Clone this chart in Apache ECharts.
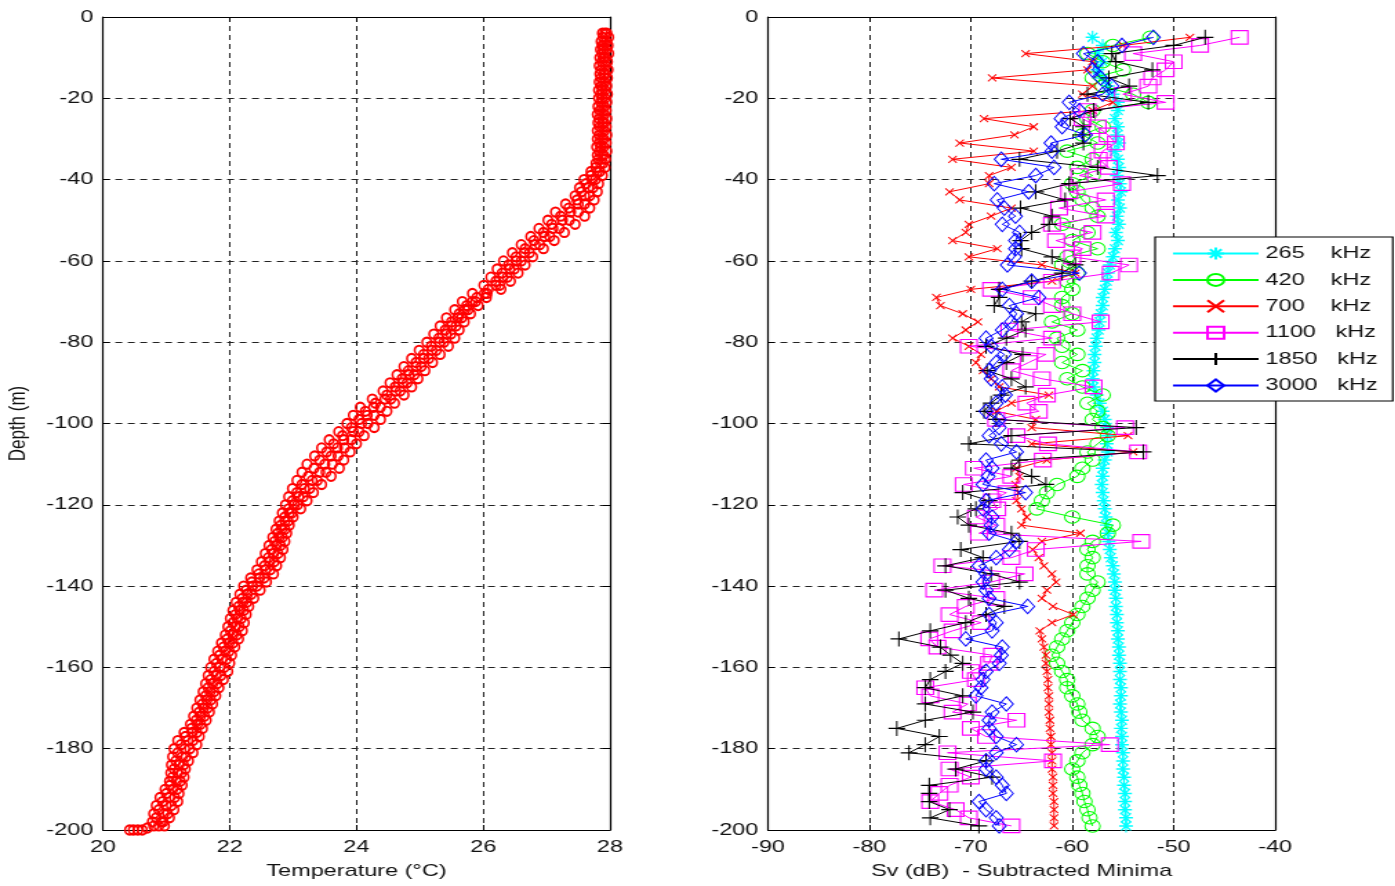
<!DOCTYPE html>
<html>
<head>
<meta charset="utf-8">
<script src="https://cdn.jsdelivr.net/npm/echarts@6.0.0/dist/echarts.min.js"></script>
<style>
html,body{margin:0;padding:0;background:#fff;overflow:hidden;}
#c{width:1011px;height:886px;transform:scaleX(1.38);transform-origin:0 0;}
</style>
</head>
<body>
<div id="c"></div>
<script>
// ---------------- data ----------------
const depths = [-5,-7,-9,-11,-13,-15,-17,-19,-21,-23,-25,-27,-29,-31,-33,-35,-37,-39,-41,-43,-45,-47,-49,-51,-53,-55,-57,-59,-61,-63,-65,-67,-69,-71,-73,-75,-77,-79,-81,-83,-85,-87,-89,-91,-93,-95,-97,-99,-101,-103,-105,-107,-109,-111,-113,-115,-117,-119,-121,-123,-125,-127,-129,-131,-133,-135,-137,-139,-141,-143,-145,-147,-149,-151,-153,-155,-157,-159,-161,-163,-165,-167,-169,-171,-173,-175,-177,-179,-181,-183,-185,-187,-189,-191,-193,-195,-197,-199];

const sv265 = [-58,-57,-57.5,-57,-57.5,-57,-56.5,-56,-55.5,-55.5,
-55.8,-55.5,-55.6,-55.4,-55.8,-55.5,-55.4,-55.6,-55.3,-55.2,
-55.5,-55.3,-55.6,-55.4,-55.7,-55.5,-55.8,-56,-56.3,-56.5,
-56.6,-56.8,-57,-57,-57.2,-57.3,-57.4,-57.6,-57.7,-57.8,
-57.8,-57.9,-58,-57.9,-57.6,-57.3,-57,-56.8,-56.6,-56.5,
-56.6,-56.5,-56.8,-57,-57,-57.1,-57,-56.9,-56.8,-56.7,
-56.6,-56.5,-56.4,-56.3,-56.2,-56,-55.9,-55.8,-55.8,-55.7,
-55.7,-55.6,-55.6,-55.5,-55.5,-55.4,-55.4,-55.3,-55.3,-55.3,
-55.2,-55.2,-55.3,-55.2,-55.1,-55.2,-55.1,-55.1,-55,-55,
-55,-54.9,-54.9,-54.8,-54.8,-54.8,-54.7,-54.7];

const sv420 = [-52.3,-56,-58.5,-57,-55,-58,-57,-54,-52.5,-58,
-58.5,-57,-59,-57.5,-60.5,-58,-59.5,-58,-60,-59.5,
-59,-58,-57.5,-61,-58.5,-60,-57.5,-60.5,-61,-59.5,
-60.5,-60,-61,-61,-60,-62,-59.5,-61.5,-61,-59.5,
-61,-59,-60.5,-59,-57,-58.5,-57.5,-58,-57,-56.5,
-57.5,-58.5,-58,-59,-59.5,-61.5,-62.5,-63,-63.5,-60,
-56,-56.5,-58,-58.5,-58,-58.5,-58.5,-57.5,-58,-58.5,
-59,-59.5,-60,-60.5,-61,-61.5,-62,-61.5,-61,-60.5,
-60.5,-60,-59.5,-59.3,-59,-58,-57.5,-58,-59,-59.5,
-60,-59.5,-59.3,-59,-58.8,-58.5,-58.3,-58];

const sv700 = [-48.4,-55,-64.6,-58,-58.5,-67.9,-58,-59,-56,-58,
-68.7,-63.8,-65.7,-71.1,-63.8,-71.8,-66,-68.2,-68.2,-72.1,
-71.1,-66,-68,-70.2,-70.5,-71.8,-67.4,-70.2,-63,-59.7,
-62,-70,-73.4,-73,-70.8,-69.3,-70.5,-71.8,-70.2,-69,
-69.5,-68.8,-68,-67.2,-62.3,-66,-67.5,-63.6,-64,-54.5,
-64,-54,-62.5,-65.5,-65.2,-65.6,-65.3,-65.5,-65,-64.5,
-65,-59.2,-63,-63.9,-63.3,-62.8,-62,-61.6,-62.5,-63,
-61.9,-59.9,-62,-63.2,-63,-62.8,-62.6,-62.6,-62.5,-62.4,
-62.4,-62.3,-62.3,-62.3,-62.2,-62.2,-62.1,-62.1,-62,-62,
-62,-61.9,-61.9,-61.9,-61.8,-61.8,-61.8,-61.8];

const sv1100 = [-43.5,-47.4,-54,-50,-50.8,-52.1,-52.5,-55,-50.8,-58.5,
-59,-57.5,-56.5,-55.7,-57,-57.4,-56.4,-59.3,-55.1,-60.3,
-56.7,-61.3,-56.7,-62,-58,-61.6,-59,-60,-54.4,-56.2,
-62,-68,-64,-62,-60,-57.2,-66.2,-62,-70.2,-62.6,
-64.3,-66,-63,-57.9,-62.5,-64.5,-63.3,-67.5,-54.8,-65.5,
-62.4,-53.5,-62.9,-69.7,-66,-70.7,-66.5,-67.9,-67.4,-69.5,
-67.5,-69.2,-53.2,-63.6,-66,-72.8,-64.7,-68,-73.6,-67.5,
-70.5,-72.1,-69,-71.8,-74.1,-73.3,-67.9,-68.2,-70,-69.5,
-74.5,-74,-70.3,-71.8,-65.5,-70,-68.5,-56.3,-72.3,-61.9,
-72.1,-70,-72.1,-73.1,-74,-71.5,-70.2,-66];

const sv1850 = [-46.9,-50,-56.1,-55.7,-52.1,-56.4,-54.4,-58.5,-52.5,-57.9,
-60.2,-58.9,-59,-58.9,-61.5,-65.2,-57.5,-51.6,-60.3,-63.6,
-60.7,-65.1,-62,-62.3,-64,-65.1,-65,-62,-59.7,-61,
-64,-67.2,-67.2,-67.7,-63.6,-65,-64.6,-66.5,-68.5,-64.9,
-66.5,-68.4,-66,-64.6,-67,-68,-68.7,-67.5,-53.7,-66,
-70.2,-53,-65.2,-66,-64,-62.6,-70.8,-68.2,-69.5,-71.3,
-70.2,-66,-65.2,-71,-68.8,-72.5,-68,-65.2,-72.5,-70.2,
-66.7,-68.5,-70.5,-74,-77.1,-73,-72,-70.8,-72.5,-74,
-74.5,-70.8,-74.5,-69.8,-74.5,-77.3,-73.1,-74.5,-76.1,-68.5,
-71.5,-67.9,-74.1,-74.1,-74.1,-72.1,-74,-69.2];

const sv3000 = [-52,-55.1,-58.9,-57.5,-58,-57.2,-56.1,-57,-60.3,-59.3,
-61.1,-61,-58.7,-62.1,-62,-67,-61.8,-63.6,-67.7,-64.3,
-67.4,-66.7,-65.6,-66.9,-65.2,-65.6,-65.6,-65.7,-66.4,-59.3,
-64,-66.9,-63.3,-66.2,-65.5,-66,-66.9,-68.5,-68,-66.7,
-67.5,-68.2,-68,-66.9,-66.6,-67.5,-68.5,-67.2,-67.2,-68.2,
-67,-65.5,-68.5,-67.9,-68.3,-68.8,-64.6,-68.5,-68.8,-67.9,
-68,-68.2,-65.5,-66.2,-67.5,-69.2,-68.5,-68.8,-68.5,-68.2,
-64.4,-68.2,-67.5,-67.9,-70.5,-66.9,-67,-67.2,-68.5,-68.8,
-69,-69.5,-66.5,-67.9,-68.2,-68.2,-67.5,-65.5,-67.5,-68.5,
-68.5,-67.5,-66.9,-66.5,-69.2,-68.5,-67.5,-67.2];

// temperature profile: left edge, inner columns and right edge of the red band
const tempDepths = [-4,-6,-8,-10,-12,-14,-16,-18,-20,-22,-24,-26,-28,-30,-32,-34,-36,-38,-40,-42,-44,-46,-48,-50,-52,-54,-56,-58,-60,-62,-64,-66,-68,-70,-72,-74,-76,-78,-80,-82,-84,-86,-88,-90,-92,-94,-96,-98,-100,-102,-104,-106,-108,-110,-112,-114,-116,-118,-120,-122,-124,-126,-128,-130,-132,-134,-136,-138,-140,-142,-144,-146,-148,-150,-152,-154,-156,-158,-160,-162,-164,-166,-168,-170,-172,-174,-176,-178,-180,-182,-184,-186,-188,-190,-192,-194,-196,-198,-199.5,-200,-200,-200,-200,-199];

const tempDown = [27.88,27.86,27.85,27.84,27.83,27.84,27.83,27.82,27.82,27.81,
27.80,27.81,27.80,27.80,27.79,27.80,27.78,27.70,27.59,27.52,
27.45,27.30,27.14,27.02,26.88,26.75,26.60,26.46,26.32,26.22,
26.12,26.01,25.83,25.67,25.55,25.42,25.32,25.22,25.11,24.99,
24.87,24.75,24.64,24.53,24.42,24.25,24.06,23.95,23.85,23.72,
23.57,23.45,23.34,23.22,23.14,23.06,22.99,22.93,22.88,22.83,
22.78,22.73,22.68,22.62,22.56,22.50,22.43,22.33,22.22,22.16,
22.10,22.05,22.01,21.97,21.93,21.87,21.81,21.75,21.70,21.66,
21.62,21.58,21.53,21.48,21.43,21.38,21.28,21.18,21.12,21.10,
21.08,21.07,21.05,20.98,20.90,20.84,20.80,20.78,20.70,20.62,20.55,20.48,20.42,20.88];

const tempQ1 = [27.89,27.88,27.87,27.87,27.86,27.86,27.86,27.85,27.85,27.84,
27.83,27.84,27.83,27.83,27.83,27.82,27.78,27.70,27.62,27.55,
27.48,27.35,27.22,27.08,26.95,26.80,26.66,26.52,26.40,26.30,
26.20,26.08,25.90,25.74,25.62,25.50,25.40,25.30,25.18,25.06,
24.94,24.82,24.72,24.61,24.48,24.30,24.14,24.04,23.92,23.78,
23.64,23.53,23.42,23.33,23.24,23.14,23.06,22.99,22.93,22.87,
22.81,22.76,22.71,22.66,22.61,22.55,22.46,22.35,22.26,22.20,
22.14,22.09,22.05,22.01,21.96,21.90,21.84,21.79,21.75,21.70,
21.66,21.62,21.57,21.52,21.47,21.40,21.30,21.23,21.18,21.15,
21.12,21.10,21.06,21.00,20.94,20.88,20.84,20.80];

const tempMid = [27.92,27.91,27.90,27.90,27.89,27.90,27.89,27.88,27.88,27.87,
27.87,27.88,27.87,27.87,27.86,27.87,27.85,27.80,27.72,27.66,
27.60,27.50,27.38,27.25,27.10,26.97,26.82,26.65,26.52,26.42,
26.31,26.20,26.02,25.83,25.71,25.60,25.50,25.42,25.31,25.19,
25.06,24.94,24.83,24.73,24.62,24.45,24.27,24.17,24.08,23.95,
23.80,23.70,23.60,23.50,23.42,23.30,23.18,23.09,23.02,22.94,
22.87,22.82,22.78,22.74,22.69,22.63,22.57,22.47,22.36,22.28,
22.21,22.16,22.12,22.09,22.05,21.99,21.93,21.88,21.84,21.79,
21.73,21.69,21.64,21.59,21.54,21.49,21.41,21.34,21.29,21.25,
21.20,21.18,21.16,21.10,21.05,21.00,20.96,20.92];

const tempQ3 = [27.95,27.94,27.94,27.93,27.93,27.93,27.92,27.92,27.92,27.91,
27.91,27.91,27.91,27.90,27.90,27.90,27.89,27.84,27.77,27.73,
27.68,27.60,27.50,27.36,27.20,27.05,26.89,26.73,26.60,26.49,
26.38,26.26,26.06,25.88,25.76,25.66,25.57,25.49,25.38,25.26,
25.14,25.02,24.91,24.80,24.69,24.54,24.38,24.28,24.18,24.04,
23.92,23.81,23.71,23.62,23.52,23.38,23.26,23.16,23.07,22.98,
22.92,22.87,22.83,22.80,22.76,22.70,22.64,22.54,22.43,22.34,
22.27,22.22,22.18,22.15,22.11,22.05,21.99,21.95,21.91,21.86,
21.80,21.75,21.70,21.65,21.60,21.54,21.48,21.42,21.37,21.31,
21.27,21.24,21.22,21.17,21.13,21.08,21.02,20.95];

const tempUp = [27.98,27.97,27.98,27.96,27.97,27.96,27.95,27.96,27.95,27.94,
27.95,27.94,27.95,27.94,27.95,27.93,27.92,27.88,27.82,27.80,
27.75,27.68,27.60,27.45,27.28,27.12,26.95,26.78,26.66,26.55,
26.43,26.28,26.05,25.92,25.80,25.70,25.62,25.55,25.45,25.32,
25.20,25.08,24.97,24.87,24.75,24.60,24.48,24.38,24.28,24.12,
24.00,23.90,23.80,23.73,23.60,23.45,23.32,23.22,23.12,23.00,
22.94,22.90,22.87,22.84,22.80,22.74,22.69,22.58,22.48,22.38,
22.30,22.26,22.23,22.20,22.14,22.08,22.03,22.00,21.97,21.90,
21.83,21.78,21.73,21.68,21.63,21.57,21.52,21.48,21.42,21.35,
21.30,21.28,21.25,21.20,21.18,21.12,21.05,20.97];

const seriesNames = ['265    kHz','420    kHz','700    kHz','1100   kHz','1850   kHz','3000   kHz'];
const tempRange = [20, 28, 2];
const svRange = [-90, -40, 10];
const depthRange = [-200, 0, 20];

// ---------------- chart ----------------
const FONT = '"Liberation Sans", Arial, sans-serif';
const SYM = {
  star: 'path://M5,0L5,10M0,5L10,5M1.5,1.5L8.5,8.5M8.5,1.5L1.5,8.5',
  circle: 'path://M0,5A5,5,0,1,1,10,5A5,5,0,1,1,0,5Z',
  cross: 'path://M0,0L10,10M10,0L0,10',
  square: 'path://M0,0L10,0L10,10L0,10Z',
  plus: 'path://M5,0L5,10M0,5L10,5',
  diamond: 'path://M5,0L10,5L5,10L0,5Z'
};

function pairs(xs, ys) { return xs.map((v, i) => [v, ys[i]]); }

function mainAxis(gridIndex, range, extra) {
  return Object.assign({
    type: 'value', gridIndex: gridIndex,
    min: range[0], max: range[1], interval: range[2],
    axisLine: {show: true, onZero: false, lineStyle: {color: '#000', width: 1.2}},
    axisTick: {show: true, inside: true, length: 5, lineStyle: {color: '#000', width: 1}},
    axisLabel: {show: true, color: '#111', fontFamily: FONT, fontSize: 17, margin: 7},
    splitLine: {show: true, lineStyle: {color: '#222', width: 1, type: [5, 4]}},
    nameTextStyle: {color: '#111', fontFamily: FONT, fontSize: 17},
    nameMoveOverlap: false
  }, extra || {});
}
function sideAxis(gridIndex, range, position) {
  return {
    type: 'value', gridIndex: gridIndex, position: position,
    min: range[0], max: range[1], interval: range[2],
    axisLine: {show: true, onZero: false, lineStyle: {color: '#000', width: 1.2}},
    axisTick: {show: true, inside: true, length: 5, lineStyle: {color: '#000', width: 1}},
    axisLabel: {show: false},
    splitLine: {show: false}
  };
}

function svSeries(name, values, color, symbol, size, bw, z) {
  return {
    name: name, type: 'line', xAxisIndex: 1, yAxisIndex: 1,
    data: pairs(values, depths),
    symbol: symbol, symbolSize: size, showSymbol: true, showAllSymbol: true,
    lineStyle: {color: color, width: 1},
    itemStyle: {color: 'rgba(0,0,0,0)', borderColor: color, borderWidth: bw},
    emphasis: {disabled: true}, silent: true, animation: false, z: z
  };
}

function tempSeries(xs, ys) {
  return {
    type: 'scatter', xAxisIndex: 0, yAxisIndex: 0,
    data: pairs(xs, ys),
    symbol: SYM.circle, symbolSize: [6.6, 9.2],
    itemStyle: {color: 'rgba(0,0,0,0)', borderColor: '#ff0000', borderWidth: 1.8, opacity: 1},
    emphasis: {disabled: true}, silent: true, animation: false
  };
}

const chart = echarts.init(document.getElementById('c'));
chart.setOption({
  animation: false,
  backgroundColor: '#fff',
  textStyle: {fontFamily: FONT},
  grid: [
    {left: 74.6, right: 569, top: 17, bottom: 56},
    {left: 556.5, right: 87, top: 17, bottom: 56}
  ],
  xAxis: [
    mainAxis(0, tempRange, {position: 'bottom', name: 'Temperature (°C)', nameLocation: 'middle', nameGap: 33,
      axisLabel: {show: true, color: '#111', fontFamily: FONT, fontSize: 17, margin: 9}}),
    mainAxis(1, svRange, {position: 'bottom', name: 'Sv (dB)  - Subtracted Minima', nameLocation: 'middle', nameGap: 33,
      axisLabel: {show: true, color: '#111', fontFamily: FONT, fontSize: 17, margin: 9}}),
    sideAxis(0, tempRange, 'top'),
    sideAxis(1, svRange, 'top')
  ],
  yAxis: [
    mainAxis(0, depthRange, {position: 'left', name: 'Depth (m)', nameLocation: 'middle', nameGap: 53, nameRotate: 90}),
    mainAxis(1, depthRange, {position: 'left'}),
    sideAxis(0, depthRange, 'right'),
    sideAxis(1, depthRange, 'right')
  ],
  legend: {
    show: true, orient: 'vertical', left: 837, top: 237,
    padding: [8, 11, 7, 12], itemGap: 9.4, itemWidth: 62, itemHeight: 15,
    backgroundColor: '#fff', borderColor: '#000', borderWidth: 1.2, borderRadius: 0,
    textStyle: {fontFamily: FONT, fontSize: 17, color: '#111'},
    data: seriesNames, selectedMode: false, z: 20
  },
  series: [
    tempSeries(tempDown, tempDepths),
    tempSeries(tempQ1, depths),
    tempSeries(tempMid, tempDepths),
    tempSeries(tempQ3, tempDepths),
    tempSeries(tempUp, depths),
    svSeries(seriesNames[0], sv265, '#00ffff', SYM.star, [10, 13], 1.3, 2),
    svSeries(seriesNames[1], sv420, '#00ff00', SYM.circle, [11, 12.5], 1, 3),
    svSeries(seriesNames[2], sv700, '#ff0000', SYM.cross, [6, 7], 1, 4),
    svSeries(seriesNames[3], sv1100, '#ff00ff', SYM.square, [12, 13.5], 1.1, 5),
    svSeries(seriesNames[4], sv1850, '#000000', SYM.plus, [12, 15], 1.1, 6),
    svSeries(seriesNames[5], sv3000, '#0000ff', SYM.diamond, [10, 14.5], 1, 7)
  ]
});
</script>
</body>
</html>
